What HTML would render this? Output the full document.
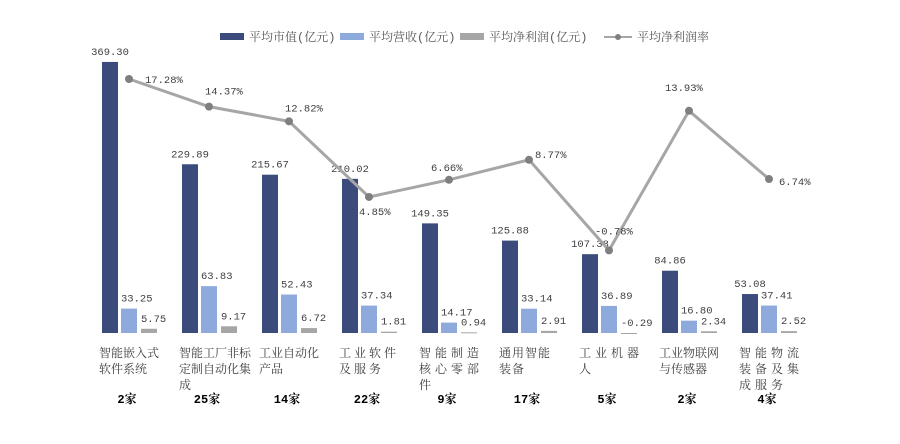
<!DOCTYPE html>
<html><head><meta charset="utf-8">
<style>
body{margin:0;background:#fff;width:900px;height:439px;overflow:hidden;font-family:"Liberation Serif","Noto Serif CJK SC",serif;}
svg text{font-family:"Liberation Mono","Noto Serif CJK SC",serif;}
</style></head>
<body>
<svg id="chart" width="900" height="439" viewBox="0 0 900 439" xmlns="http://www.w3.org/2000/svg"></svg>
<script>
const categories=[["智能嵌入式","软件系统"],["智能工厂非标","定制自动化集","成"],["工业自动化","产品"],["工业软件","及服务"],["智能制造","核心零部","件"],["通用智能","装备"],["工业机器","人"],["工业物联网","与传感器"],["智能物流","装备及集","成服务"]];
const counts=["2家","25家","14家","22家","9家","17家","5家","2家","4家"];
const marketValue=[369.30,229.89,215.67,210.02,149.35,125.88,107.38,84.86,53.08];
const revenue=[33.25,63.83,52.43,37.34,14.17,33.14,36.89,16.80,37.41];
const profit=[5.75,9.17,6.72,1.81,0.94,2.91,-0.29,2.34,2.52];
const margin=[17.28,14.37,12.82,4.85,6.66,8.77,-0.78,13.93,6.74];
const labelPos=[[16,4],[-4,-12],[-4,-10],[-10,18],[-18,-9],[6,-2],[-14,-16],[-24,-20],[10,6]];
const catSpacing=[0,0,0,3,4,1,4,0,4];
const NS="http://www.w3.org/2000/svg";
const svg=document.getElementById('chart');
const base=333, yBar=v=>base-v*0.734, yLine=v=>243-v*9.49, gx=i=>102+i*80;
function mk(tag,attrs,parent){const e=document.createElementNS(NS,tag);for(const k in attrs)e.setAttribute(k,attrs[k]);(parent||svg).appendChild(e);return e;}
const series=[[marketValue,'#3a4b7c',0,'bar-market-value'],[revenue,'#8eaadc',19,'bar-revenue'],[profit,'#a6a6a6',39,'bar-profit']];
series.forEach(([arr,col,off,name],si)=>{
 arr.forEach((v,i)=>{
  const x=gx(i)+off, y=Math.min(yBar(v),base), h=Math.max(Math.abs(yBar(v)-base),1);
  const r=mk('rect',{x:x,y:y,width:16,height:h,fill:col});
  
  
  const t=mk('text',{x:si===0?x+8:x,y:Math.min(yBar(v),base)-7,'text-anchor':si===0?'middle':'start','font-size':10.5,fill:'#404040'});
  t.textContent=v.toFixed(2);
  
  
 });
});
const pts=margin.map((v,i)=>[gx(i)+27,yLine(v)]);
const pl=mk('polyline',{points:pts.map(p=>p.join(',')).join(' '),fill:'none',stroke:'#a6a6a6','stroke-width':3});


pts.forEach((p,i)=>{
 const c=mk('circle',{cx:p[0],cy:p[1],r:4,fill:'#7f7f7f'});
 
 
 const t=mk('text',{x:p[0]+labelPos[i][0],y:p[1]+labelPos[i][1],'font-size':10.5,fill:'#404040'});
 t.textContent=margin[i].toFixed(2)+'%';
 
 
});
categories.forEach((lines,i)=>{
 lines.forEach((s,j)=>{
  const t=mk('text',{x:gx(i)-3,y:357+j*16,'font-size':12,fill:'#404040','letter-spacing':catSpacing[i]});
  t.textContent=s;
  
  
 });
 const c=mk('text',{x:gx(i)+25,y:403,'text-anchor':'middle','font-size':12,'font-weight':'bold',fill:'#000'});
 c.textContent=counts[i];
 
 
});
const legend=[['平均市值(亿元)','#3a4b7c',220,'rect'],['平均营收(亿元)','#8eaadc',340,'rect'],['平均净利润(亿元)','#a6a6a6',460,'rect'],['平均净利润率','#a6a6a6',604,'line']];
legend.forEach(([txt,col,x,type])=>{
 const g=mk('g',{});
 
 
 if(type==='rect')mk('rect',{x:x,y:33,width:24,height:7,fill:col},g);
 else{mk('line',{x1:x,y1:37,x2:x+28,y2:37,stroke:col,'stroke-width':2},g);mk('circle',{cx:x+14,cy:37,r:3,fill:'#7f7f7f'},g);}
 const t=mk('text',{x:x+(type==='rect'?29:33),y:41,'font-size':12,fill:'#595959'},g);
 t.textContent=txt;
});
</script>
</body></html>
